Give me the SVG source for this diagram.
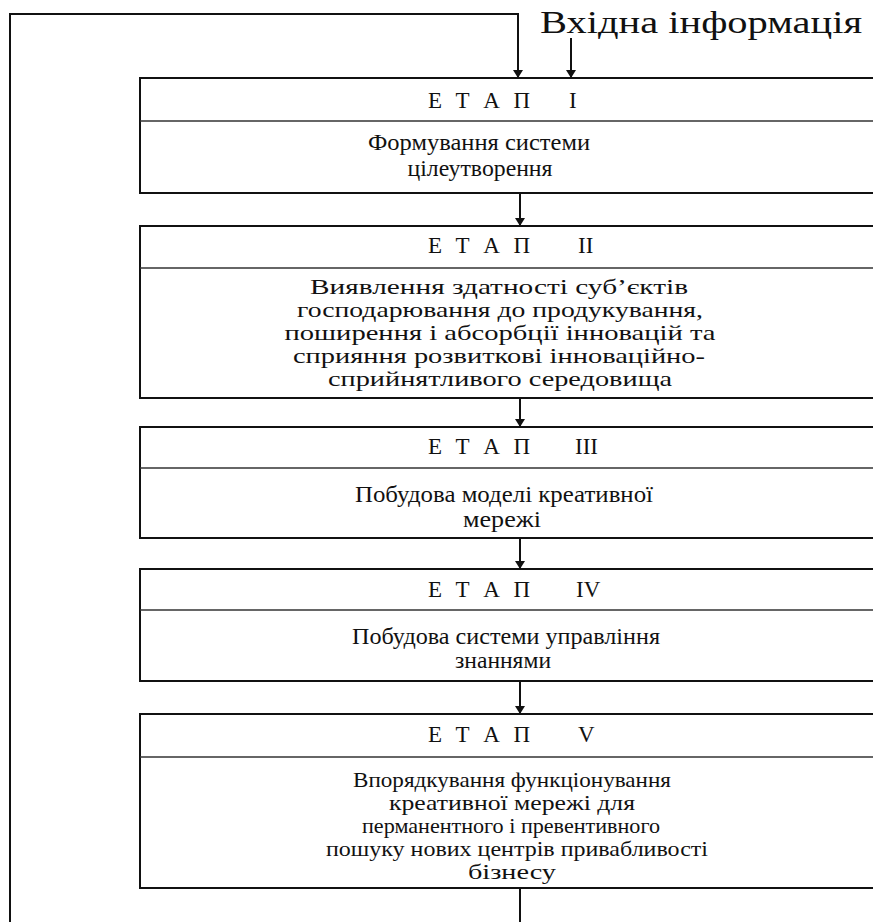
<svg xmlns="http://www.w3.org/2000/svg" width="873" height="922" viewBox="0 0 873 922">
<style>
.box{fill:#fff;stroke:#111;stroke-width:2}
.div{stroke:#333;stroke-width:1.5}
.ln{stroke:#111;stroke-width:2;fill:none}
.hd{font-family:"Liberation Serif",serif;font-size:23px;fill:#111}
.bt{font-family:"Liberation Serif",serif;font-size:24px;fill:#111;text-anchor:middle}
.sm{font-size:22px}
.title{font-family:"Liberation Serif",serif;font-size:31px;fill:#111}
</style>
<defs>
<marker id="ah" markerWidth="8" markerHeight="10" refX="8" refY="5" orient="auto" markerUnits="userSpaceOnUse" viewBox="0 0 8 10">
<path d="M0,0 L8,5 L0,10 Z" fill="#111"/>
</marker>
</defs>
<text class="title" x="540" y="33" textLength="322" lengthAdjust="spacingAndGlyphs">Вхідна інформація</text>
<g id="connectors">
<path class="ln" d="M10,922 L10,14 L518,14 L518,78" marker-end="url(#ah)"/>
<path class="ln" d="M571,38 L571,78" marker-end="url(#ah)"/>
<path class="ln" d="M520,193 L520,226" marker-end="url(#ah)"/>
<path class="ln" d="M520,398 L520,427" marker-end="url(#ah)"/>
<path class="ln" d="M520,538 L520,569" marker-end="url(#ah)"/>
<path class="ln" d="M520,681 L520,714" marker-end="url(#ah)"/>
<path class="ln" d="M520,888 L520,922"/>
</g>
<g id="stage1">
<rect class="box" x="140" y="78" width="745" height="115"/>
<line class="div" x1="140" y1="121" x2="873" y2="121"/>
<text class="hd" x="428" y="108" textLength="102" lengthAdjust="spacing">Е Т А П</text>
<text class="hd" x="569" y="108">І</text>
<text class="bt" x="479" y="150" textLength="222" lengthAdjust="spacingAndGlyphs">Формування системи</text>
<text class="bt" x="480" y="176" textLength="145" lengthAdjust="spacingAndGlyphs">цілеутворення</text>
</g>
<g id="stage2">
<rect class="box" x="140" y="226" width="745" height="172"/>
<line class="div" x1="140" y1="268" x2="873" y2="268"/>
<text class="hd" x="428" y="253" textLength="102" lengthAdjust="spacing">Е Т А П</text>
<text class="hd" x="578" y="253">ІІ</text>
<text class="bt sm" x="499" y="294" textLength="378" lengthAdjust="spacingAndGlyphs">Виявлення здатності суб’єктів</text>
<text class="bt sm" x="500" y="317" textLength="406" lengthAdjust="spacingAndGlyphs">господарювання до продукування,</text>
<text class="bt sm" x="500" y="340" textLength="431" lengthAdjust="spacingAndGlyphs">поширення і абсорбції інновацій та</text>
<text class="bt sm" x="499" y="363" textLength="412" lengthAdjust="spacingAndGlyphs">сприяння розвиткові інноваційно-</text>
<text class="bt sm" x="500" y="386" textLength="344" lengthAdjust="spacingAndGlyphs">сприйнятливого середовища</text>
</g>
<g id="stage3">
<rect class="box" x="140" y="427" width="745" height="111"/>
<line class="div" x1="140" y1="468" x2="873" y2="468"/>
<text class="hd" x="428" y="454" textLength="102" lengthAdjust="spacing">Е Т А П</text>
<text class="hd" x="575" y="454">ІІІ</text>
<text class="bt" x="504" y="502" textLength="298" lengthAdjust="spacingAndGlyphs">Побудова моделі креативної</text>
<text class="bt" x="502" y="527" textLength="78" lengthAdjust="spacingAndGlyphs">мережі</text>
</g>
<g id="stage4">
<rect class="box" x="140" y="569" width="745" height="112"/>
<line class="div" x1="140" y1="610" x2="873" y2="610"/>
<text class="hd" x="428" y="597" textLength="102" lengthAdjust="spacing">Е Т А П</text>
<text class="hd" x="576" y="597">IV</text>
<text class="bt" x="506" y="644" textLength="308" lengthAdjust="spacingAndGlyphs">Побудова системи управління</text>
<text class="bt" x="503" y="668" textLength="96" lengthAdjust="spacingAndGlyphs">знаннями</text>
</g>
<g id="stage5">
<rect class="box" x="140" y="714" width="745" height="174"/>
<line class="div" x1="140" y1="757" x2="873" y2="757"/>
<text class="hd" x="428" y="742" textLength="102" lengthAdjust="spacing">Е Т А П</text>
<text class="hd" x="578" y="742">V</text>
<text class="bt sm" x="512" y="787" textLength="318" lengthAdjust="spacingAndGlyphs">Впорядкування функціонування</text>
<text class="bt sm" x="512" y="810" textLength="246" lengthAdjust="spacingAndGlyphs">креативної мережі для</text>
<text class="bt sm" x="511" y="833" textLength="298" lengthAdjust="spacingAndGlyphs">перманентного і превентивного</text>
<text class="bt sm" x="517" y="856" textLength="382" lengthAdjust="spacingAndGlyphs">пошуку нових центрів привабливості</text>
<text class="bt sm" x="512" y="879" textLength="88" lengthAdjust="spacingAndGlyphs">бізнесу</text>
</g>
</svg>
